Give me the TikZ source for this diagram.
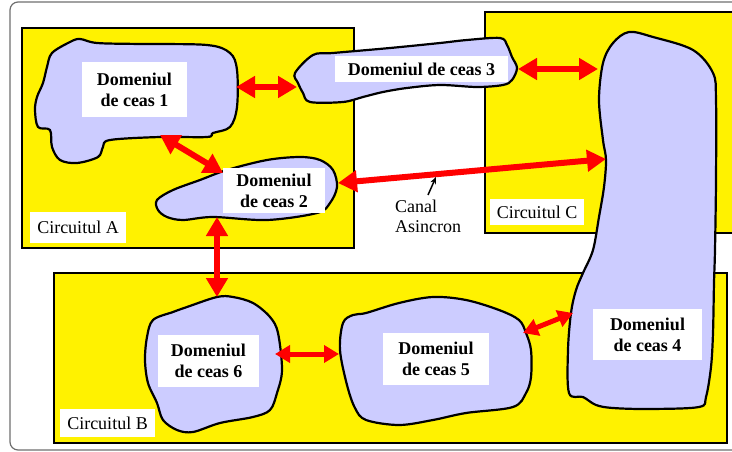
\documentclass[tikz,border=0pt]{standalone}
\usepackage{fontspec}
\setmainfont{Liberation Serif}
\usetikzlibrary{arrows.meta}
\definecolor{domfill}{RGB}{204,204,255}
\definecolor{framegray}{RGB}{110,110,110}
\tikzset{
  circuit/.style={draw=black, line width=2pt, fill=yellow},
  blob/.style={draw=black, line width=2.2pt, fill=domfill},
  domlabel/.style={fill=white, inner sep=0pt, align=center, font=\fontsize{18}{21}\selectfont\bfseries},
  circlabel/.style={fill=white, inner sep=0pt, align=center, font=\fontsize{18}{21}\selectfont},
  link/.style={draw=red, line width=6pt, {Triangle[width=21pt,length=19pt]}-{Triangle[width=21pt,length=19pt]}},
  shortlink/.style={draw=red, line width=5pt, {Triangle[width=17pt,length=15pt]}-{Triangle[width=17pt,length=15pt]}},
}
\begin{document}
\begin{tikzpicture}[x=1pt, y=-1pt]
\useasboundingbox (0,0) rectangle (732,452);
\clip (0,0) rectangle (732,452);

% outer frame
\draw[framegray, line width=1.2pt, rounded corners=8pt] (10,2) rectangle (770,450);

% circuits
\draw[circuit] (22,28) rectangle (354,248);
\draw[circuit] (485,12) rectangle (750,233);
\draw[circuit] (54,273) rectangle (727,443);

% clock domains
\draw[blob] plot[smooth cycle, tension=0.55] coordinates {
  (52,53) (70,42) (80,39) (97,43) (140,44) (207,45) (230,53) (237,70)
  (237,107) (230,127) (213,133) (207,137) (160,137) (110,140) (103,147)
  (98,157) (77,163) (60,160) (52,147) (50,130) (38,127) (35,110) (37,97)
  (43,83) (47,67)};
\draw[blob] plot[smooth cycle, tension=0.55] coordinates {
  (157,200) (173,190) (200,180) (227,170) (267,160) (300,157) (320,160)
  (333,170) (337,187) (330,203) (317,213) (267,220) (213,217) (183,220)
  (167,217) (158,210)};
\draw[blob] plot[smooth cycle, tension=0.55] coordinates {
  (295,73) (313,55) (333,53) (390,48) (440,43) (467,40) (500,38) (507,45)
  (512,57) (517,68) (512,80) (503,85) (477,87) (440,85) (407,88) (383,92)
  (363,97) (343,102) (310,102) (303,93) (298,83)};
\draw[blob] plot[smooth cycle, tension=0.55] coordinates {
  (629,32) (653,37) (693,50) (713,73) (716,100) (716,180) (715,250)
  (714,283) (713,333) (711,367) (706,397) (699,407) (649,409) (613,408)
  (596,405) (583,397) (569,393) (568,350) (571,313) (576,290) (583,273)
  (593,250) (599,217) (604,187) (606,160) (603,140) (599,100) (603,63)
  (613,43)};
\draw[blob] plot[smooth cycle, tension=0.55] coordinates {
  (343,323) (353,315) (366,313) (399,303) (433,297) (466,300) (499,310)
  (519,320) (526,333) (531,350) (531,377) (526,393) (513,407) (466,413)
  (433,420) (399,425) (366,420) (355,408) (347,385) (340,350)};
\draw[blob] plot[smooth cycle, tension=0.55] coordinates {
  (217,297) (233,297) (253,303) (270,317) (278,333) (282,370) (277,393)
  (270,410) (253,417) (220,423) (193,432) (177,430) (163,420) (157,403)
  (148,383) (145,360) (147,337) (153,320) (173,312) (187,307)};

% labels
\node[domlabel, minimum width=105pt, minimum height=55pt] (d1) at (134.5,89.5) {Domeniul\\de ceas 1};
\node[domlabel, minimum width=102pt, minimum height=45pt] (d2) at (274,190.5) {Domeniul\\de ceas 2};
\node[domlabel, minimum width=173pt, minimum height=26pt] (d3) at (421.5,69) {Domeniul de ceas 3};
\node[domlabel, minimum width=109pt, minimum height=51pt] (d4) at (647.5,334.5) {Domeniul\\de ceas 4};
\node[domlabel, minimum width=106pt, minimum height=52pt] (d5) at (436,359) {Domeniul\\de ceas 5};
\node[domlabel, minimum width=101pt, minimum height=52pt] (d6) at (208.5,361) {Domeniul\\de ceas 6};
\node[circlabel, minimum width=96pt, minimum height=31pt] (ca) at (78,227.5) {Circuitul A};
\node[circlabel, minimum width=94pt, minimum height=26pt] (cc) at (537,212) {Circuitul C};
\node[circlabel, minimum width=95pt, minimum height=28pt] (cb) at (107.5,423) {Circuitul B};
\node[inner sep=0pt, align=left, anchor=north west, font=\fontsize{18}{20}\selectfont] (canal) at (395,200) {Canal\\Asincron};

% connection points on the domain outlines
\coordinate (p13a) at (236,87);
\coordinate (p13b) at (297,87);
\coordinate (p34a) at (518,69);
\coordinate (p34b) at (598,69);
\coordinate (p12a) at (160,135);
\coordinate (p12b) at (223,173);
\coordinate (p24a) at (338,183);
\coordinate (p24b) at (606,159);
\coordinate (p26a) at (217,217);
\coordinate (p26b) at (217,297);
\coordinate (p65a) at (275,354);
\coordinate (p65b) at (339,354);
\coordinate (p54a) at (523,333);
\coordinate (p54b) at (573,313);
\coordinate (ptr) at (436,177);
\coordinate (ptrfoot) at (428,195);

% links between clock domains
\draw[link] (p13a) -- (p13b);
\draw[link] (p34a) -- (p34b);
\draw[link] (p12a) -- (p12b);
\draw[link] (p24a) -- (p24b);
\draw[link] (p26a) -- (p26b);
\draw[shortlink] (p65a) -- (p65b);
\draw[shortlink] (p54a) -- (p54b);

% pointer to the asynchronous channel
\draw[line width=1.5pt, -{Stealth[length=7pt,width=6pt]}] (ptrfoot) -- (ptr);
\end{tikzpicture}
\end{document}
